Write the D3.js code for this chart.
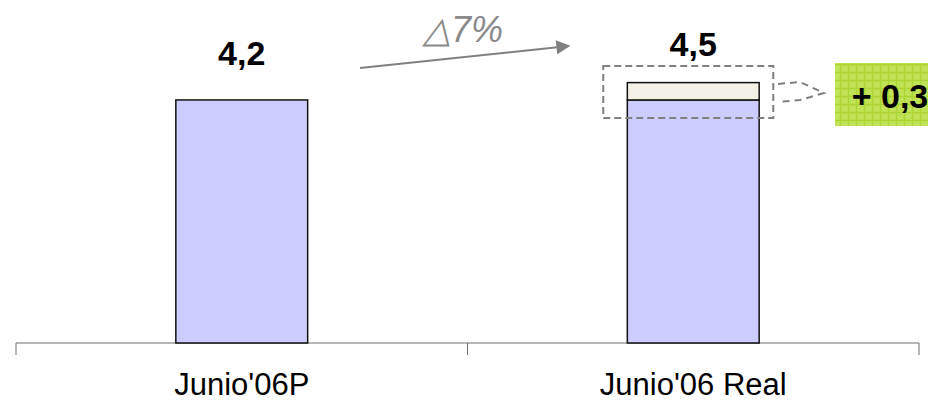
<!DOCTYPE html>
<html><head><meta charset="utf-8">
<script src="https://cdn.jsdelivr.net/npm/d3@7"></script>
<style>body{margin:0;background:#fff;}svg{display:block;font-family:"Liberation Sans",Arial,sans-serif;}</style>
</head><body>
<svg id="c" width="928" height="402"></svg>
<script>
const categories = ["Junio'06P", "Junio'06 Real"];
const baseValues = [4.2, 4.2];
const increments = [0, 0.3];
const valueLabels = ["4,2", "4,5"];
const deltaLabel = "\u25B37%";
const incrementLabel = "+ 0,3";

const svg = d3.select("#c");
const x = d3.scaleBand().domain(categories).range([16, 919]).padding(0);
const y = d3.scaleLinear().domain([0, 4.5]).range([343, 82.6]);
const barW = x.bandwidth() * 0.292;
const cx = d => x(d) + x.bandwidth() / 2;

// pattern for green box
const defs = svg.append("defs");
const pat = defs.append("pattern").attr("id", "grn").attr("width", 8).attr("height", 8).attr("patternUnits", "userSpaceOnUse");
pat.append("rect").attr("width", 8).attr("height", 8).attr("fill", "#bbe04a");
pat.append("path").attr("d", "M0,0.5H8M0.5,0V8").attr("stroke", "#acd436").attr("stroke-width", 1);
pat.append("circle").attr("cx", 4.5).attr("cy", 4.5).attr("r", 1.8).attr("fill", "none").attr("stroke", "#cde978").attr("stroke-width", 0.8);
defs.append("marker").attr("id", "ah").attr("viewBox", "0 0 10 10").attr("refX", 9).attr("refY", 5)
  .attr("markerWidth", 15).attr("markerHeight", 14).attr("markerUnits", "userSpaceOnUse").attr("orient", "auto")
  .append("path").attr("d", "M0,0L10,5L0,10Z").attr("fill", "#808080");

// axis
const axis = svg.append("g").attr("transform", "translate(0,343)");
axis.append("line").attr("x1", 16).attr("x2", 919).attr("stroke", "#6e6e6e").attr("stroke-width", 1);
const tickPos = [16, ...categories.map(c => x(c) + x.bandwidth())];
axis.selectAll(".tk").data(tickPos).join("line").attr("x1", d => d).attr("x2", d => d)
  .attr("y1", 0).attr("y2", 12).attr("stroke", "#6e6e6e");
svg.selectAll(".cat").data(categories).join("text").attr("x", d => cx(d)).attr("y", 395)
  .attr("text-anchor", "middle").attr("font-size", 31).attr("fill", "#000").text(d => d);

// bars
svg.selectAll(".base").data(categories).join("rect")
  .attr("x", d => cx(d) - barW / 2).attr("width", barW)
  .attr("y", (d, i) => y(baseValues[i])).attr("height", (d, i) => y(0) - y(baseValues[i]))
  .attr("fill", "#ccccff").attr("stroke", "#111").attr("stroke-width", 1.5);
svg.selectAll(".inc").data(categories.filter((d, i) => increments[i] > 0)).join("rect")
  .attr("x", d => cx(d) - barW / 2).attr("width", barW)
  .attr("y", d => { const i = categories.indexOf(d); return y(baseValues[i] + increments[i]); })
  .attr("height", d => { const i = categories.indexOf(d); return y(baseValues[i]) - y(baseValues[i] + increments[i]); })
  .attr("fill", "#f3f0e6").attr("stroke", "#111").attr("stroke-width", 1.5);

// value labels
svg.selectAll(".vl").data(categories).join("text")
  .attr("x", d => cx(d)).attr("y", (d, i) => y(baseValues[i] + increments[i]) - (i === 0 ? 35 : 27))
  .attr("text-anchor", "middle").attr("font-size", 34).attr("font-weight", "bold").text((d, i) => valueLabels[i]);

// growth arrow
svg.append("line").attr("x1", 360).attr("y1", 68).attr("x2", 569).attr("y2", 46)
  .attr("stroke", "#808080").attr("stroke-width", 2).attr("marker-end", "url(#ah)");
svg.append("text").attr("x", 463).attr("y", 42).attr("text-anchor", "middle").attr("font-size", 36)
  .attr("font-style", "italic").attr("fill", "#8a8a8a").text(deltaLabel);

// dashed highlight box
const c2 = cx(categories[1]);
svg.append("rect").attr("x", c2 - 90).attr("y", 66).attr("width", 170).attr("height", 52)
  .attr("fill", "none").attr("stroke", "#808080").attr("stroke-width", 2).attr("stroke-dasharray", "7,4");
svg.append("path").attr("d", "M778,84L800,82L824,93L800,100L778,102")
  .attr("fill", "none").attr("stroke", "#808080").attr("stroke-width", 2).attr("stroke-dasharray", "7,5");

// green box
svg.append("rect").attr("x", 835).attr("y", 63).attr("width", 93).attr("height", 63).attr("fill", "url(#grn)");
svg.append("text").attr("x", 890).attr("y", 108).attr("text-anchor", "middle").attr("font-size", 34)
  .attr("font-weight", "bold").text(incrementLabel);
</script>
</body></html>
